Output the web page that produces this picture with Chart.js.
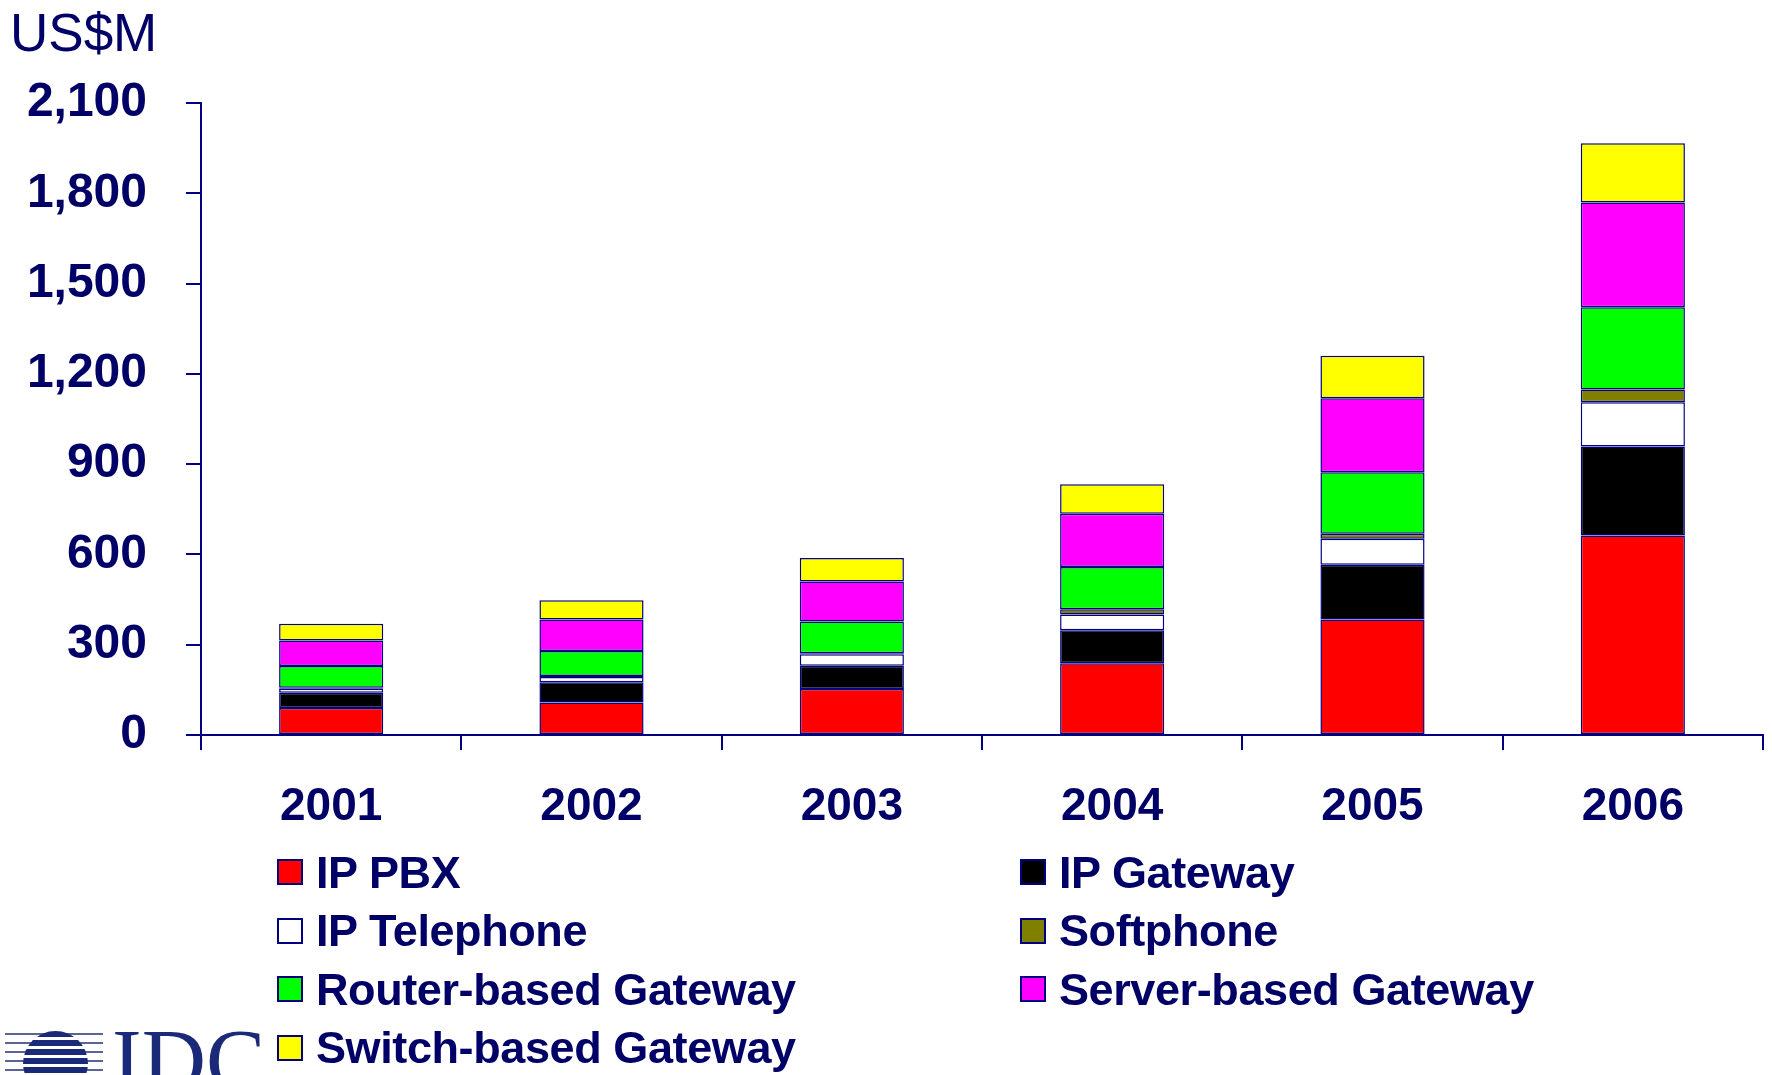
<!DOCTYPE html>
<html>
<head>
<meta charset="utf-8">
<title>IP Telephony Equipment Market</title>
<script src="https://cdn.jsdelivr.net/npm/chart.js"></script>
<style>
  html, body { margin: 0; padding: 0; background: #fff; }
  .wrap {
    position: relative; width: 1772px; height: 1075px; overflow: hidden;
    font-family: "Liberation Sans", Arial, sans-serif; color: #000066;
  }
  #chartBox { position: absolute; left: 0; top: 0; width: 1772px; height: 1075px; }
  .unit { position: absolute; left: 10px; top: 6px; font-size: 53px; line-height: 53px; }
  #chartLegend {
    position: absolute; left: 277px; top: 843px;
    display: grid; grid-template-columns: 743px auto; grid-auto-rows: 58.5px;
  }
  .legend-item {
    display: flex; align-items: center; white-space: nowrap;
    font-weight: bold; font-size: 45px; line-height: 45px; letter-spacing: -0.4px;
  }
  .legend-color { width: 22px; height: 22px; border: 2px solid #000080; margin-right: 13px; }
  .logo-lines {
    position: absolute; left: 5px; top: 1033px; width: 98px; height: 42px;
    background: repeating-linear-gradient(to bottom, #5a6496 0 2px, transparent 2px 9px);
  }
  .logo-globe {
    position: absolute; left: 23px; top: 1031px; width: 65px; height: 65px; border-radius: 50%;
    background: repeating-linear-gradient(to bottom, #1b2a78 0 6px, #fff 6px 9px);
  }
  .logo-text {
    position: absolute; left: 112px; top: 1016px; font-family: "Liberation Serif", "DejaVu Serif", serif;
    font-size: 89px; line-height: 89px; color: #1b2a78;
  }
</style>
</head>
<body>
<div class="wrap">
  <div id="chartBox"><canvas id="stackChart"></canvas></div>
  <div class="unit">US$M</div>
  <div id="chartLegend"></div>
  <div class="logo-lines"></div>
  <div class="logo-globe"></div>
  <div class="logo-text">IDC</div>
</div>
<script>
  // values, US$M
  const years = ["2001", "2002", "2003", "2004", "2005", "2006"];
  const ipPbx = [90, 108, 153, 238, 384, 663];
  const ipGateway = [50, 67, 77, 110, 182, 296];
  const ipTelephone = [14, 18, 38, 52, 86, 147];
  const softphone = [3, 3, 4, 18, 17, 42];
  const routerGateway = [72, 83, 105, 140, 204, 273];
  const serverGateway = [85, 105, 133, 177, 246, 348];
  const switchGateway = [56, 64, 78, 98, 141, 197];
  const yTickValues = [0, 300, 600, 900, 1200, 1500, 1800, 2100];

  const navy = "#000066";
  const edge = "#000080";
  Chart.defaults.font.family = '"Liberation Sans", Arial, sans-serif';

  const series = [
    { label: "IP PBX", data: ipPbx, color: "#FF0000" },
    { label: "IP Gateway", data: ipGateway, color: "#000000" },
    { label: "IP Telephone", data: ipTelephone, color: "#FFFFFF" },
    { label: "Softphone", data: softphone, color: "#808000" },
    { label: "Router-based Gateway", data: routerGateway, color: "#00FF00" },
    { label: "Server-based Gateway", data: serverGateway, color: "#FF00FF" },
    { label: "Switch-based Gateway", data: switchGateway, color: "#FFFF00" },
  ];

  const config = {
    type: "bar",
    data: {
      labels: years,
      datasets: series.map((s) => ({
        label: s.label,
        data: s.data,
        backgroundColor: s.color,
        borderColor: edge,
        borderWidth: 1.5,
        borderSkipped: false,
        barPercentage: 0.4,
        categoryPercentage: 1,
      })),
    },
    options: {
      responsive: true,
      maintainAspectRatio: false,
      animation: false,
      layout: { padding: { left: 0, top: 103, right: 9, bottom: 0 } },
      plugins: {
        legend: { display: false }, // html legend below
        tooltip: { enabled: false },
      },
      scales: {
        x: {
          stacked: true,
          afterFit: (scale) => { scale.height = 340; },
          grid: { drawOnChartArea: false, color: edge, lineWidth: 2, tickLength: 15, offset: true },
          border: { color: edge, width: 2 },
          ticks: { color: navy, padding: 30, font: { size: 46, weight: "bold" } },
        },
        y: {
          stacked: true,
          min: 0,
          max: 2100,
          afterFit: (scale) => { scale.width = 201; },
          afterBuildTicks: (scale) => {
            scale.ticks = yTickValues.map((v) => ({ value: v }));
          },
          grid: { drawOnChartArea: false, color: edge, lineWidth: 2, tickLength: 15 },
          border: { color: edge, width: 2 },
          ticks: {
            color: navy,
            padding: 39,
            font: { size: 48, weight: "bold" },
            callback: (v) => v.toLocaleString("en-US"),
          },
        },
      },
    },
    plugins: [
      {
        id: "custom-legend",
        afterUpdate: (chart) => {
          const legendContainer = document.getElementById("chartLegend");
          legendContainer.innerHTML = "";

          chart.data.datasets.forEach((ds) => {
            const legendItem = document.createElement("div");
            legendItem.classList.add("legend-item");

            const colorBox = document.createElement("span");
            colorBox.classList.add("legend-color");
            colorBox.style.backgroundColor = ds.backgroundColor;

            const labelText = document.createElement("span");
            labelText.textContent = ds.label;

            legendItem.appendChild(colorBox);
            legendItem.appendChild(labelText);
            legendContainer.appendChild(legendItem);
          });
        },
      },
    ],
  };

  const ctx = document.getElementById("stackChart").getContext("2d");
  new Chart(ctx, config);
</script>
</body>
</html>
